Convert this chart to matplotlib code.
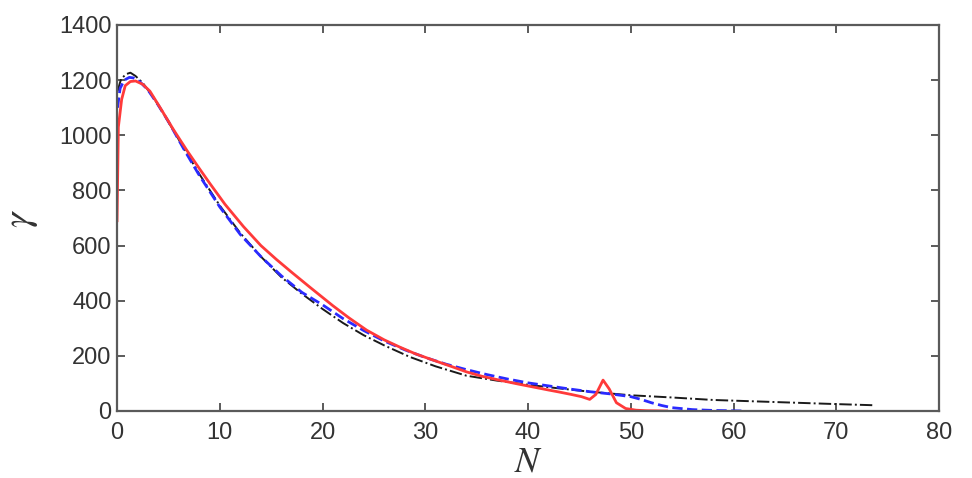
import numpy as np
import matplotlib.pyplot as plt

# ── Curves: gamma vs N ─────────────────────────────────────────────────────────
n_red = [0.0, 0.13, 0.45, 0.8, 1.3, 1.8, 2.5, 3.2, 4.2, 5.5, 6.8, 8.0, 9.0, 10.5,
         12.3, 14.0, 15.5, 17.0, 18.8, 21.0, 22.6, 24.3, 26.0, 27.5, 29.0, 30.8,
         32.5, 34.0, 35.5, 37.2, 39.0, 40.5, 42.0, 43.0, 44.2, 45.2, 46.0, 46.6,
         47.3, 47.9, 48.6, 49.5, 50.5, 51.5, 53.5]
g_red = [690, 1030, 1130, 1180, 1195, 1197, 1185, 1160, 1100, 1020, 945, 880, 827, 750,
         669, 600, 550, 503, 448, 382, 337, 293, 258, 232, 208, 184,
         162, 142, 126, 112, 98, 87, 76, 69, 60, 52, 42, 60,
         112, 80, 30, 9, 3, 1, 0]

n_blue = [0.05, 0.3, 0.7, 1.2, 1.6, 2.2, 3.0, 4.0, 5.0, 6.5, 8.0, 10.0, 12.0,
          14.0, 16.0, 18.0, 20.0, 22.0, 24.0, 26.0, 28.0, 30.0, 32.0, 34.0,
          36.0, 38.0, 40.0, 42.0, 44.0, 46.0, 48.0, 50.0, 51.0, 52.0, 53.0,
          54.0, 56.0, 58.0, 61.0]
g_blue = [1100, 1170, 1200, 1210, 1208, 1195, 1165, 1110, 1050, 950, 855, 740, 640,
          560, 490, 430, 385, 335, 292, 254, 222, 194, 170, 150,
          132, 116, 102, 91, 80, 70, 62, 52, 42, 30, 20,
          12, 5, 2, 0]

n_black = [0.05, 0.4, 0.9, 1.3, 1.8, 2.5, 3.5, 4.5, 6.0, 8.0, 10.0, 12.0, 14.0,
           16.0, 18.0, 20.0, 22.0, 24.0, 26.0, 28.5, 31.0, 34.0, 37.0, 40.0,
           43.0, 46.0, 50.0, 54.0, 58.0, 62.0, 66.0, 70.0, 73.5]
g_black = [1160, 1205, 1222, 1227, 1215, 1190, 1140, 1080, 985, 860, 745, 645, 560,
           485, 425, 370, 319, 275, 238, 196, 162, 128, 110, 95,
           82, 70, 57, 49, 40, 35, 30, 25, 21]

x_ticks = [0, 10, 20, 30, 40, 50, 60, 70, 80]
y_ticks = [0, 200, 400, 600, 800, 1000, 1200, 1400]

plt.rcParams.update({
    'font.family': 'sans-serif',
    'font.sans-serif': ['Liberation Sans', 'DejaVu Sans'],
    'mathtext.fontset': 'stix',
})

fig = plt.figure(figsize=(9.72, 4.78), dpi=100)
ax = fig.add_axes([0.1204, 0.1402, 0.8457, 0.8075])

ax.plot(n_black, g_black, color='#1a1a1a', linestyle='-.', linewidth=1.4)
ax.plot(n_blue, g_blue, color='#2a2aff', linestyle='--', linewidth=2.0)
ax.plot(n_red, g_red, color='#ff3a3a', linestyle='-', linewidth=2.0)

ax.set_xlim(0, 80)
ax.set_ylim(0, 1400)
ax.set_xticks(x_ticks)
ax.set_yticks(y_ticks)

for side in ['left', 'right', 'top', 'bottom']:
    ax.spines[side].set_color('#5a5a5a')
    ax.spines[side].set_linewidth(1.6)

ax.tick_params(direction='in', length=6, width=1.4, color='#5a5a5a',
               labelsize=17, labelcolor='#333333',
               top=True, right=True)
ax.tick_params(axis='x', pad=8)
ax.tick_params(axis='y', pad=4)

ax.set_xlabel(r'$N$', fontsize=26, color='#333333', labelpad=0)
ax.set_ylabel(r'$\gamma$', fontsize=28, color='#333333', labelpad=14)

fig.savefig('out.png', dpi=100)
